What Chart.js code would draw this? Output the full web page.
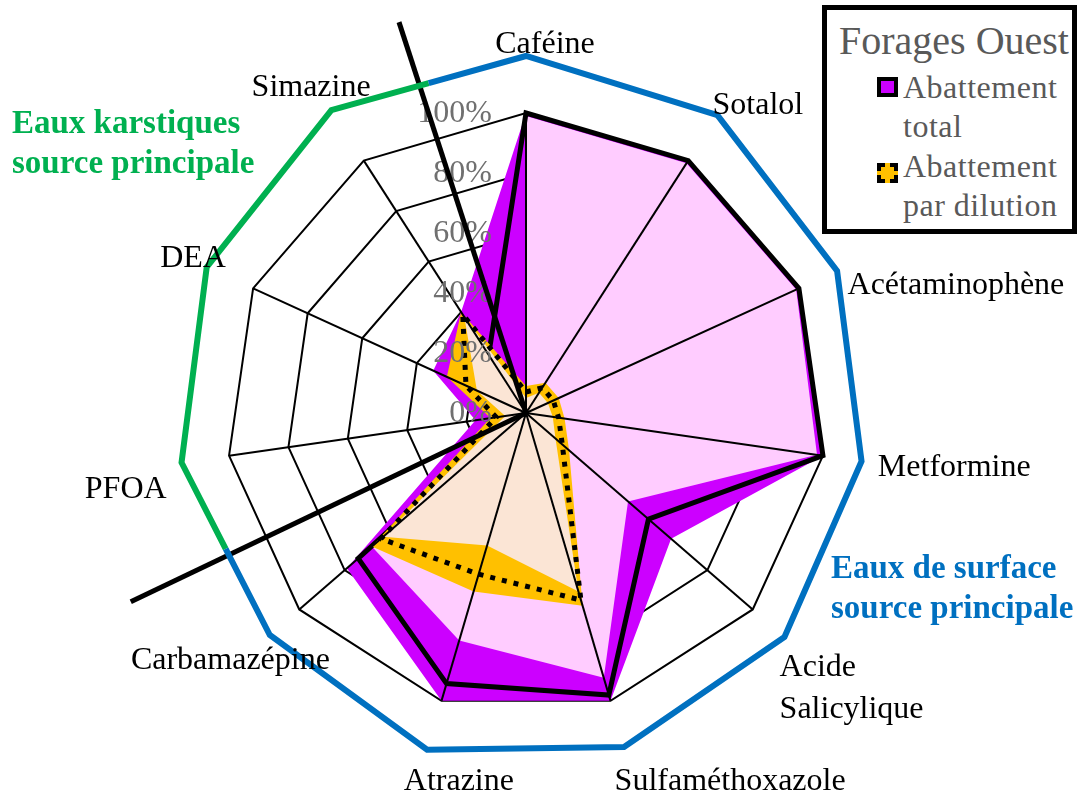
<!DOCTYPE html>
<html>
<head>
<meta charset="utf-8">
<title>Forages Ouest – abattement</title>
<script src="https://cdn.jsdelivr.net/npm/chart.js@4.4.1/dist/chart.umd.min.js"></script>
<style>
  html, body { margin: 0; padding: 0; background: #fff; }
  body { width: 1079px; height: 794px; overflow: hidden; position: relative;
         font-family: "Liberation Serif", "Times New Roman", serif; }
  #chart { position: absolute; left: -30px; top: -7px; }
  .legend { position: absolute; left: 822px; top: 5px; width: 245px; height: 219px;
            border: 5px solid #000; background: #fff; color: #595959; }
  .legend .title { position: absolute; left: 12px; top: 11px; font-size: 40px; line-height: 40px; white-space: nowrap; }
  .legend .item { position: absolute; left: 76px; font-size: 32px; line-height: 39px; letter-spacing: 0.5px; white-space: nowrap; }
  .legend .swatch { position: absolute; left: 50px; width: 13px; height: 12px; }
  .sw-total { border: 4px solid #000; background: #CC00FF; }
  .sw-dil { border: 4px dashed #000; background: #FFC000; }
  .note { position: absolute; font-weight: bold; font-size: 33px; line-height: 40px; text-align: left; white-space: nowrap; }
  .karst { left: 12px; top: 102px; color: #00B050; }
  .surface { left: 831px; top: 547px; color: #0070C0; }
</style>
</head>
<body>
<canvas id="chart" width="1112" height="840"></canvas>

<div class="legend">
  <div class="title">Forages Ouest</div>
  <div class="swatch sw-total" style="top:67px"></div>
  <div class="item" style="top:58px">Abattement<br>total</div>
  <div class="swatch sw-dil" style="top:153px"></div>
  <div class="item" style="top:137px">Abattement<br>par dilution</div>
</div>
<div class="note karst">Eaux karstiques<br>source principale</div>
<div class="note surface">Eaux de surface<br>source principale</div>

<script>
// Substances, clockwise from the top
const categories = ['Caféine', 'Sotalol', 'Acétaminophène', 'Metformine', ['Acide', 'Salicylique'],
  'Sulfaméthoxazole', 'Atrazine', 'Carbamazépine', 'PFOA', 'DEA', 'Simazine'];

// Abattement total (%): maximum, minimum and mean
const totalMax  = [100, 100, 100, 100, 64, 100, 100, 79, 17, 34, 40];
const totalMin  = [ 99,  99,  99,  98, 45,  92,  79, 68,  0,  0,  0];
const totalMean = [100, 100, 100, 100, 54,  98,  94, 74,  3, 10, 23];

// Abattement par dilution (%): maximum, minimum and mean
const dilutionMax  = [9, 12, 12, 13, 19, 67, 62, 68, 12, 29, 40];
const dilutionMin  = [5,  8,  8,  9, 13, 62, 46, 63,  7, 18, 38];
const dilutionMean = [7, 10, 10, 11, 16, 65, 56, 64, 10, 22, 39];

// Radial tick values shown as percentages
const tickValues = [0, 20, 40, 60, 80, 100];

// Outer frame around the web (% of the radial scale) and the source groups
const outerRing = [119, 118, 114, 113, 114, 116, 117, 113, 116, 117, 120];
const karstFirst = 8;   // PFOA
const karstLast = 10;   // Simazine
// separator directions (fractional category index) and how far they reach (%)
const separators = [
  { at: karstFirst - 0.53, reach: 146 },
  { at: karstLast + 0.45, reach: 137 }
];

// Placement of the substance names around the web
const labelLayout = [
  { dx: 19, dy: -2, align: 'center' },
  { dx: 34, dy: 0, align: 'center' },
  { dx: 97, dy: 25, align: 'center' },
  { dx: 66, dy: 3, align: 'center' },
  { dx: -23, dy: 15, align: 'left' },
  { dx: 101, dy: 17, align: 'center' },
  { dx: 36, dy: 17, align: 'center' },
  { dx: -19, dy: 8, align: 'center' },
  { dx: -38, dy: 25, align: 'center' },
  { dx: 0, dy: -2, align: 'center' },
  { dx: -17, dy: -18, align: 'center' }
];

const SERIF = '"Liberation Serif", "Times New Roman", serif';

function area(label, data, color, order) {
  return { label, data, backgroundColor: color, borderWidth: 0, fill: true, pointRadius: 0, order };
}
function outline(label, data, dash, order) {
  return { label, data, borderColor: '#000', backgroundColor: 'rgba(0,0,0,0)', borderWidth: 5,
           borderDash: dash, borderCapStyle: 'butt', borderJoinStyle: 'miter',
           fill: false, pointRadius: 0, order };
}

// Spokes, percentages, group separators, outer frame and names, drawn over the areas
const decor = {
  id: 'decor',
  afterDatasetsDraw(chart) {
    const s = chart.scales.r;
    const ctx = chart.ctx;
    const n = categories.length;
    const cx = s.xCenter, cy = s.yCenter;
    const dist = v => s.getDistanceFromCenterForValue(v);
    ctx.save();

    // spokes
    ctx.strokeStyle = '#000';
    ctx.lineWidth = 2;
    for (let i = 0; i < n; i++) {
      const p = s.getPointPosition(i, dist(100));
      ctx.beginPath(); ctx.moveTo(cx, cy); ctx.lineTo(p.x, p.y); ctx.stroke();
    }

    // percentage ticks
    ctx.font = '32px ' + SERIF;
    ctx.fillStyle = '#707070';
    ctx.textAlign = 'right';
    ctx.textBaseline = 'middle';
    tickValues.forEach(v => ctx.fillText(v + '%', cx - 34, cy - dist(v) + 1));

    // separators between karst and surface water groups
    ctx.lineWidth = 5;
    ctx.lineCap = 'butt';
    separators.forEach(({ at, reach }) => {
      const p = s.getPointPosition(at, dist(reach));
      ctx.beginPath(); ctx.moveTo(cx, cy); ctx.lineTo(p.x, p.y); ctx.stroke();
    });

    // outer frame, green around the karst group and blue elsewhere
    const pts = outerRing.map((v, i) => s.getPointPosition(i, dist(v)));
    const mid = (a, b) => ({ x: (a.x + b.x) / 2, y: (a.y + b.y) / 2 });
    const start = mid(pts[karstFirst - 1], pts[karstFirst]);
    const end = mid(pts[karstLast], pts[(karstLast + 1) % n]);
    ctx.lineWidth = 6;
    ctx.lineJoin = 'miter';
    ctx.strokeStyle = '#00B050';
    ctx.beginPath(); ctx.moveTo(start.x, start.y);
    for (let i = karstFirst; i <= karstLast; i++) ctx.lineTo(pts[i].x, pts[i].y);
    ctx.lineTo(end.x, end.y); ctx.stroke();
    ctx.strokeStyle = '#0070C0';
    ctx.beginPath(); ctx.moveTo(end.x, end.y);
    const others = n - (karstLast - karstFirst + 1);
    for (let k = karstLast + 1; k < karstLast + 1 + others; k++) {
      const p = pts[k % n]; ctx.lineTo(p.x, p.y);
    }
    ctx.lineTo(start.x, start.y); ctx.stroke();

    // substance names
    ctx.font = '32px ' + SERIF;
    ctx.fillStyle = '#000';
    ctx.textBaseline = 'middle';
    categories.forEach((name, i) => {
      const a = s.getPointPosition(i, dist(122));
      const lay = labelLayout[i];
      const lines = Array.isArray(name) ? name : [name];
      ctx.textAlign = lay.align;
      lines.forEach((t, j) => ctx.fillText(t, a.x + lay.dx, a.y + lay.dy + j * 42));
    });
    ctx.restore();
  }
};

new Chart(document.getElementById('chart'), {
  type: 'radar',
  data: {
    labels: categories,
    datasets: [
      area('Abattement total (max)', totalMax, '#CC00FF', 6),
      area('Abattement total (min)', totalMin, '#FFCCFF', 5),
      outline('Abattement total', totalMean, [], 4),
      area('Abattement par dilution (max)', dilutionMax, '#FFC000', 3),
      area('Abattement par dilution (min)', dilutionMin, '#FBE5D5', 2),
      outline('Abattement par dilution', dilutionMean, [5, 7], 1)
    ]
  },
  options: {
    responsive: false,
    animation: false,
    events: [],
    elements: { line: { tension: 0 } },
    plugins: { legend: { display: false }, tooltip: { enabled: false } },
    scales: {
      r: {
        min: 0,
        max: 140,
        ticks: { stepSize: 20, display: false },
        pointLabels: { display: false },
        angleLines: { display: false },
        grid: {
          lineWidth: 2,
          color: ctx => (ctx.tick && ctx.tick.value <= 100) ? '#000' : 'rgba(0,0,0,0)'
        }
      }
    }
  },
  plugins: [decor]
});
</script>
</body>
</html>
